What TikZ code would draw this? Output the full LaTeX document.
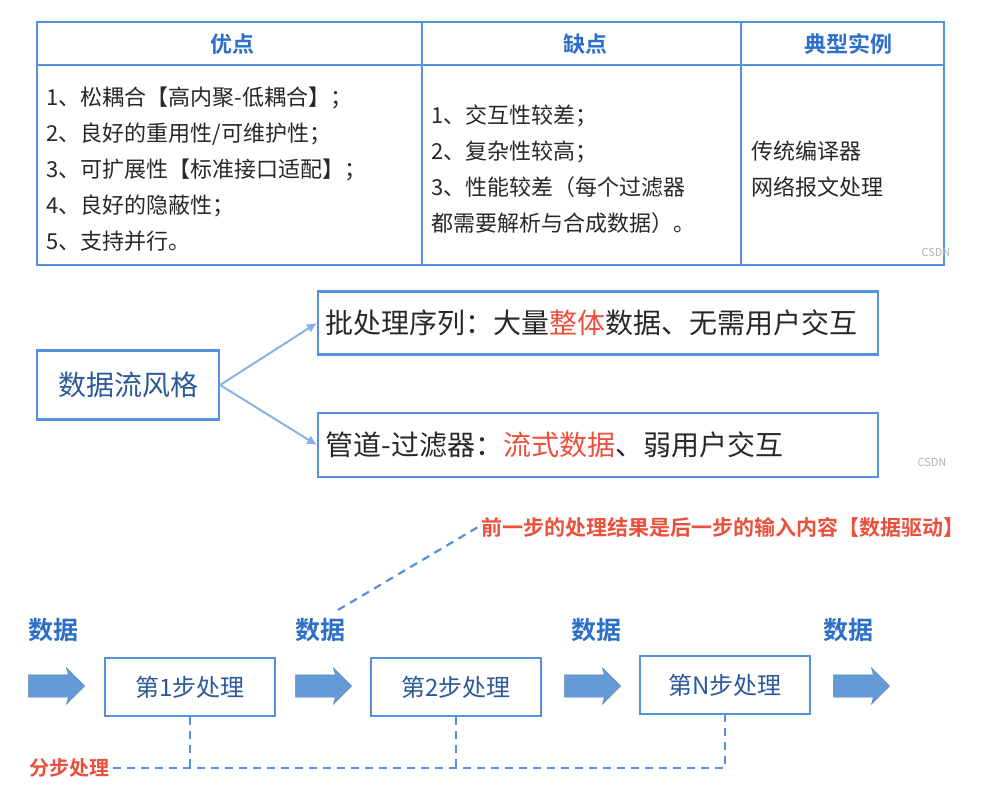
\documentclass[tikz,border=0pt]{standalone}
\usepackage{fontspec}
\setmainfont{Noto Sans CJK SC}[BoldFont={Noto Sans CJK SC Bold}]
\usetikzlibrary{shapes.arrows,arrows.meta}
\definecolor{bl}{RGB}{85,145,220}
\definecolor{bt}{RGB}{45,110,200}
\definecolor{af}{RGB}{100,155,215}
\definecolor{rd}{RGB}{235,80,60}
\definecolor{tx}{RGB}{40,40,40}
\begin{document}
\begin{tikzpicture}[x=1pt,y=-1pt,
  box/.style={draw=bl,line width=2.2pt,inner sep=0pt},
  hd/.style={text=bt,font=\fontsize{22}{22}\selectfont\bfseries},
  cell/.style={text=tx,font=\fontsize{22}{36}\selectfont,align=left,anchor=west},
  txt/.style={text=tx,font=\fontsize{28}{28}\selectfont},
  stepbox/.style={box,minimum width=170pt,minimum height=58pt,text=bt!70!tx,font=\fontsize{24}{24}\selectfont},
  dlab/.style={text=bt,font=\fontsize{25}{25}\selectfont\bfseries},
  barr/.style={single arrow,fill=af,draw=af!80!black,line width=0.4pt,inner xsep=0pt,inner ysep=11pt,minimum height=56pt,single arrow head extend=7pt,single arrow head indent=2pt},
  dsh/.style={draw=bl,line width=2.2pt,dash pattern=on 8pt off 6pt},
  lnk/.style={draw=bl!70,line width=2pt,-{Latex[length=10pt,width=10pt]}}]
\useasboundingbox (0,0) rectangle (993,797);
% table
\draw[bl,line width=2.2pt] (37,22) rectangle (944,265);
\draw[bl,line width=2.2pt] (37,65) -- (944,65) (422,22) -- (422,265) (741,22) -- (741,265);
\node[hd] (h1) at (232,44) {优点};
\node[hd] (h2) at (585,44) {缺点};
\node[hd] (h3) at (848,44) {典型实例};
\node[cell] (c1) at (43,169) {1、松耦合【高内聚-低耦合】；\\2、良好的重用性/可维护性；\\3、可扩展性【标准接口适配】；\\4、良好的隐蔽性；\\5、支持并行。};
\node[cell] (c2) at (428,169) {1、交互性较差；\\2、复杂性较高；\\3、性能较差（每个过滤器\\都需要解析与合成数据）。};
\node[cell] (c3) at (748,169) {传统编译器\\网络报文处理};
\node[text=gray!60,font=\fontsize{11}{11}\selectfont,anchor=west] (w1) at (918,252) {CSDN};
% middle
\node[box,minimum width=182pt,minimum height=69pt,txt,text=bt!70!tx] (df) at (128,385) {数据流风格};
\node[box,minimum width=560pt,minimum height=63pt,txt,text width=545pt,align=left] (b1) at (598,323) {批处理序列：大量\textcolor{rd}{整体}数据、无需用户交互};
\node[box,minimum width=560pt,minimum height=64pt,txt,text width=545pt,align=left] (b2) at (598,445) {管道-过滤器：\textcolor{rd}{流式数据}、弱用户交互};
\draw[lnk] (df.east) -- (b1.west);
\draw[lnk] (df.east) -- (b2.west);
\node[text=gray!60,font=\fontsize{11}{11}\selectfont,anchor=west] (w2) at (914,462) {CSDN};
% bottom
\node[stepbox] (s1) at (190,687) {第1步处理};
\node[stepbox] (s2) at (456,687) {第2步处理};
\node[stepbox] (s3) at (725,685) {第N步处理};
\node[barr] (a0) at (51,686) {};
\node[barr] (a1) at (318,686) {};
\node[barr] (a2) at (587,686) {};
\node[barr] (a3) at (856,686) {};
\node[dlab] (d0) at (53,630) {数据};
\node[dlab] (d1) at (320,630) {数据};
\node[dlab] (d2) at (596,630) {数据};
\node[dlab] (d3) at (848,630) {数据};
\node[text=rd,font=\fontsize{21}{21}\selectfont\bfseries,anchor=west] (note) at (478,527) {前一步的处理结果是后一步的输入内容【数据驱动】};
\coordinate (n0) at (338,610);
\draw[dsh] (n0) -- (note.west);
\node[text=rd,font=\fontsize{20}{20}\selectfont\bfseries,anchor=west] (fb) at (26,768) {分步处理};
\coordinate (e3) at (s3.south |- fb);
\draw[dsh] (fb.east) -- (e3) -- (s3.south);
\draw[dsh] (s1.south) -- (s1.south |- fb);
\draw[dsh] (s2.south) -- (s2.south |- fb);
\end{tikzpicture}
\end{document}
